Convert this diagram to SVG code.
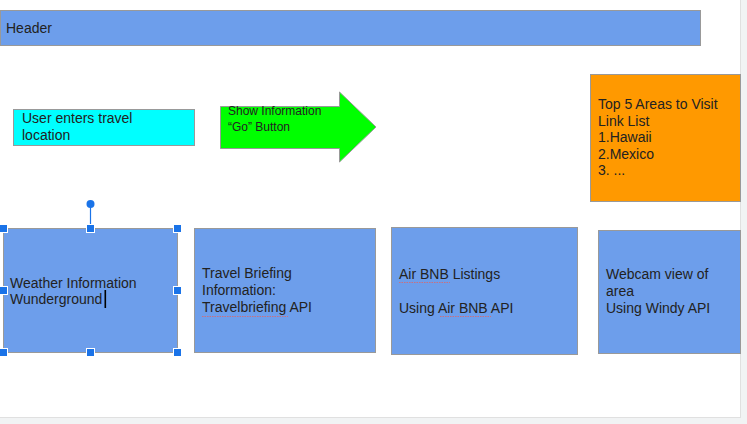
<svg xmlns="http://www.w3.org/2000/svg" width="747" height="424" viewBox="0 0 747 424">
<style>
text{font-family:"Liberation Sans",Arial,sans-serif;font-size:14px;fill:#222}
.box{fill:#6d9eeb;stroke:#999;stroke-width:1}
.sq{fill:none;stroke:#e06666;stroke-width:0.8;stroke-dasharray:1.5 1}
.h{fill:#1a73e8;stroke:#fff;stroke-width:1}
</style>
<rect x="0" y="0" width="747" height="424" fill="#f1f3f4"/>
<rect x="0" y="0" width="741" height="418" fill="#e0e0e0"/>
<rect x="0" y="0" width="740" height="417" fill="#fff"/>
<g id="header">
<rect class="box" x="0.5" y="10.5" width="700" height="35"/>
<text x="6" y="33">Header</text>
</g>
<g id="user-input">
<rect x="13.5" y="109.5" width="181" height="36" fill="#00ffff" stroke="#999"/>
<text x="22" y="123">User enters travel</text>
<text x="22" y="140">location</text>
</g>
<g id="go-button">
<path d="M220.5 106.5 H339.5 V92 L376 127 L339.5 162 V148.5 H220.5 Z" fill="#00ff00" stroke="#999"/>
<text x="228" y="115" style="font-size:12px">Show Information</text>
<text x="228" y="131" style="font-size:12px">“Go” Button</text>
</g>
<g id="top-areas">
<rect x="590.5" y="74.5" width="150" height="127" fill="#ff9900" stroke="#999"/>
<text x="598" y="109">Top 5 Areas to Visit</text>
<text x="598" y="125.5">Link List</text>
<text x="598" y="142">1.Hawaii</text>
<text x="598" y="158.5">2.Mexico</text>
<text x="598" y="175">3. ...</text>
</g>
<g id="weather">
<rect class="box" x="3.5" y="228.5" width="174" height="124" stroke="#1a73e8"/>
<text x="10" y="288">Weather Information</text>
<text x="10" y="304">Wunderground</text>
<rect x="104.5" y="290" width="1.6" height="18" fill="#000"/>
<line x1="90.5" y1="204" x2="90.5" y2="228" stroke="#1a73e8" stroke-width="1.2"/>
<circle cx="90.5" cy="204" r="4" fill="#1a73e8"/>
<rect class="h" x="-0.5" y="224.5" width="8" height="8"/>
<rect class="h" x="86.5" y="224.5" width="8" height="8"/>
<rect class="h" x="173.5" y="224.5" width="8" height="8"/>
<rect class="h" x="-0.5" y="286.5" width="8" height="8"/>
<rect class="h" x="173.5" y="286.5" width="8" height="8"/>
<rect class="h" x="-0.5" y="348.5" width="8" height="8"/>
<rect class="h" x="86.5" y="348.5" width="8" height="8"/>
<rect class="h" x="173.5" y="348.5" width="8" height="8"/>
</g>
<g id="travel-briefing">
<rect class="box" x="194.5" y="228.5" width="181" height="124"/>
<text x="202" y="278">Travel Briefing</text>
<text x="202" y="295">Information:</text>
<text x="202" y="312">Travelbriefing API</text>
<path class="sq" d="M202 316.5 H288"/>
</g>
<g id="airbnb">
<rect class="box" x="391.5" y="227.5" width="186" height="127"/>
<text x="399" y="279">Air BNB Listings</text>
<text x="399" y="313">Using Air BNB API</text>
<path class="sq" d="M399 282.5 H450"/>
<path class="sq" d="M440 316.5 H491"/>
</g>
<g id="webcam">
<rect class="box" x="598.5" y="230.5" width="142" height="123"/>
<text x="606" y="279">Webcam view of</text>
<text x="606" y="296">area</text>
<text x="606" y="313">Using Windy API</text>
</g>
<g id="connectors"/>
</svg>
